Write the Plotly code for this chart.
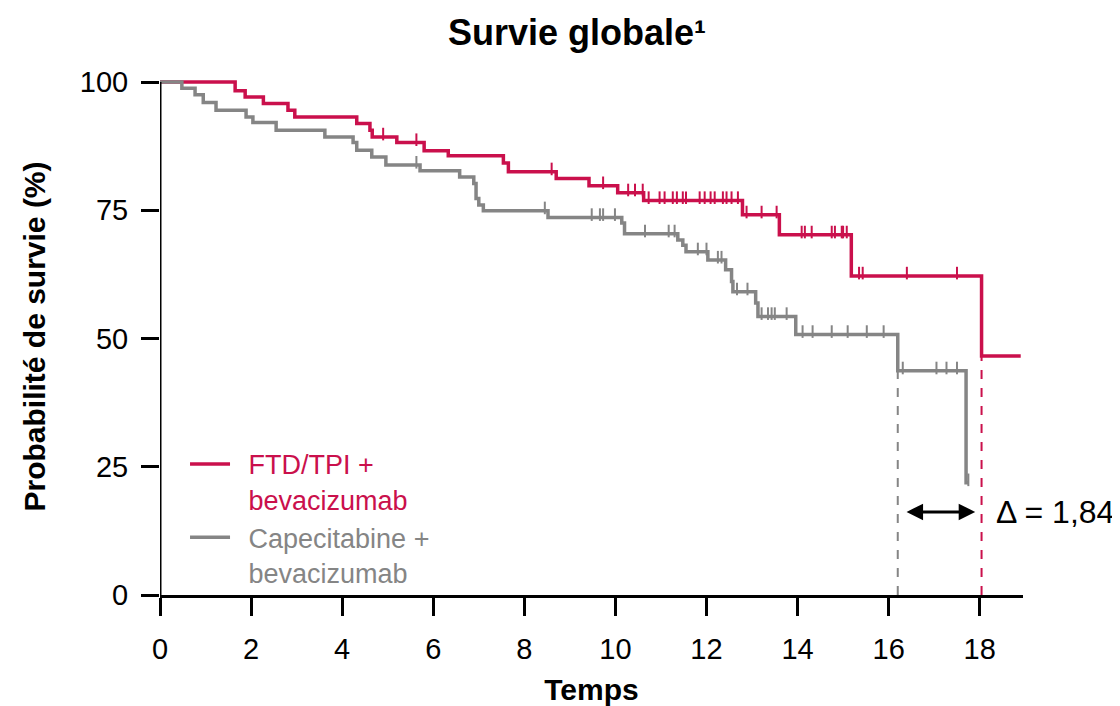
import plotly.graph_objects as go

# ---- data ----
red_t = [0, 1.65, 1.87, 2.27, 2.81, 2.96, 4.32, 4.61, 4.66, 5.2, 5.8, 6.33, 7.54, 7.65,
         8.7, 9.42, 10.05, 10.62, 12.79, 13.6, 15.18, 18.04, 18.9]
red_s = [100, 98.3, 97.1, 95.8, 94.5, 93.2, 91.9, 90.6, 89.3, 88.2, 86.6, 85.6, 84.2, 82.5,
         81.2, 79.8, 78.4, 76.9, 74.1, 70.2, 62.2, 46.6, 46.6]
red_cens = [4.9, 5.63, 8.6, 9.73, 10.28, 10.43, 10.6, 10.73, 10.97, 11.08, 11.26, 11.35,
            11.48, 11.55, 11.85, 11.96, 12.09, 12.18, 12.36, 12.44, 12.55, 12.69, 12.88,
            13.21, 13.54, 14.09, 14.16, 14.31, 14.75, 14.82, 14.97, 15.0, 15.08, 15.35,
            15.43, 16.4, 17.5]

gray_t = [0, 0.48, 0.77, 0.95, 1.23, 1.89, 2.04, 2.55, 3.62, 4.24, 4.32, 4.65, 4.96, 5.71,
          6.58, 6.89, 6.94, 7.0, 7.1, 8.52, 10.14, 10.2, 11.37, 11.48, 11.55, 12.03, 12.42,
          12.55, 12.58, 13.08, 13.13, 13.96, 16.2, 17.7, 17.75]
gray_s = [100, 98.8, 97.5, 96.0, 94.5, 93.2, 92.1, 90.6, 89.3, 88.2, 86.7, 85.4, 83.8, 82.7,
          81.5, 80.2, 77.3, 76.0, 74.9, 73.6, 72.5, 70.4, 69.2, 68.2, 66.9, 65.3, 63.4,
          61.1, 59.1, 56.9, 54.3, 50.8, 43.7, 21.9, 21.9]
gray_cens = [5.63, 8.45, 9.48, 9.66, 9.73, 9.99, 10.65, 11.17, 11.3, 11.81, 12.0, 12.25,
             12.33, 12.67, 12.9, 13.21, 13.35, 13.43, 13.5, 13.76, 14.11, 14.33, 14.75,
             15.1, 15.52, 15.89, 16.31, 17.05, 17.27, 17.5, 17.75]

red_median = 18.04
gray_median = 16.2
delta_label = "Δ = 1,84"
red_name = ["FTD/TPI +", "bevacizumab"]
gray_name = ["Capecitabine +", "bevacizumab"]

x_ticks = [0, 2, 4, 6, 8, 10, 12, 14, 16, 18]
y_ticks = [0, 25, 50, 75, 100]
y_top = 100

RED = "#CA104C"
GRAY = "#858585"
FONT = "Liberation Sans, Arial, sans-serif"


def level_at(ts, ss, t):
    val = ss[0]
    for ti, si in zip(ts, ss):
        if ti <= t:
            val = si
    return val


def legend_name(lines, color):
    return "<br>".join(f"<span style='color:{color}'>\u2002{ln}</span>" for ln in lines)


tick_off = 0.55  # lift censor ticks above the line (data units)

fig = go.Figure()
fig.add_trace(go.Scatter(x=red_t, y=red_s, mode="lines", line=dict(color=RED, width=3.5, shape="hv"),
                         name=legend_name(red_name, RED), cliponaxis=False))
fig.add_trace(go.Scatter(x=gray_t, y=gray_s, mode="lines", line=dict(color=GRAY, width=3.5, shape="hv"),
                         name=legend_name(gray_name, GRAY), cliponaxis=False))
fig.add_trace(go.Scatter(x=red_cens, y=[level_at(red_t, red_s, c) + tick_off for c in red_cens],
                         mode="markers", showlegend=False,
                         marker=dict(symbol="line-ns", size=9, line=dict(color=RED, width=2))))
fig.add_trace(go.Scatter(x=gray_cens, y=[level_at(gray_t, gray_s, c) + tick_off for c in gray_cens],
                         mode="markers", showlegend=False,
                         marker=dict(symbol="line-ns", size=9, line=dict(color=GRAY, width=2))))

# y-axis line ending exactly at the top tick
fig.add_shape(type="line", xref="x", yref="y", x0=0, x1=0, y0=0, y1=y_top,
              line=dict(color="black", width=3))

# median dashed lines
fig.add_shape(type="line", x0=gray_median, x1=gray_median, y0=0,
              y1=level_at(gray_t, gray_s, gray_median), line=dict(color=GRAY, width=2, dash="dash"))
fig.add_shape(type="line", x0=red_median, x1=red_median, y0=0,
              y1=level_at(red_t, red_s, red_median), line=dict(color=RED, width=2, dash="dash"))

# delta arrow
arrow_y = 16.2
fig.add_annotation(x=red_median - 0.14, y=arrow_y, ax=gray_median + 0.16, ay=arrow_y,
                   xref="x", yref="y", axref="x", ayref="y", text="",
                   showarrow=True, arrowhead=2, arrowside="end+start", arrowsize=1.1,
                   arrowwidth=3, arrowcolor="black")
fig.add_annotation(x=red_median + 0.28, y=arrow_y, xref="x", yref="y", text=delta_label,
                   showarrow=False, xanchor="left", yanchor="middle",
                   font=dict(size=32, color="black", family=FONT))

fig.update_layout(
    width=1120, height=706,
    margin=dict(l=152, r=105, t=70, b=119, autoexpand=False),
    plot_bgcolor="white", paper_bgcolor="white",
    font=dict(family=FONT, size=29, color="black"),
    title=dict(text="<b>Survie globale¹</b>", x=0.508, xanchor="center",
               y=0.966, yanchor="middle", font=dict(size=36, family=FONT, color="black")),
    xaxis=dict(range=[0, 18.95], tickvals=x_ticks, showgrid=False, zeroline=False,
               showline=True, linecolor="black", linewidth=3, ticks="outside",
               ticklen=18, tickwidth=3, tickcolor="black", automargin=False,
               ticklabelstandoff=8,
               tickfont=dict(size=29, family=FONT),
               title=dict(text="<b>Temps</b>", font=dict(size=30, family=FONT), standoff=16)),
    yaxis=dict(range=[0, 100.78], tickvals=y_ticks, showgrid=False, zeroline=False,
               showline=False, ticks="outside",
               ticklen=18, tickwidth=3, tickcolor="black", automargin=False,
               ticklabelstandoff=7,
               tickfont=dict(size=29, family=FONT),
               title=dict(text="<b>Probabilité de survie (%)</b>", font=dict(size=30, family=FONT),
                          standoff=25)),
    legend=dict(x=0.029, y=0.30, xanchor="left", yanchor="top", valign="top",
                bgcolor="rgba(0,0,0,0)", font=dict(size=27, family=FONT, color=RED),
                itemwidth=40),
    showlegend=True,
)

fig.write_html("out.html")
